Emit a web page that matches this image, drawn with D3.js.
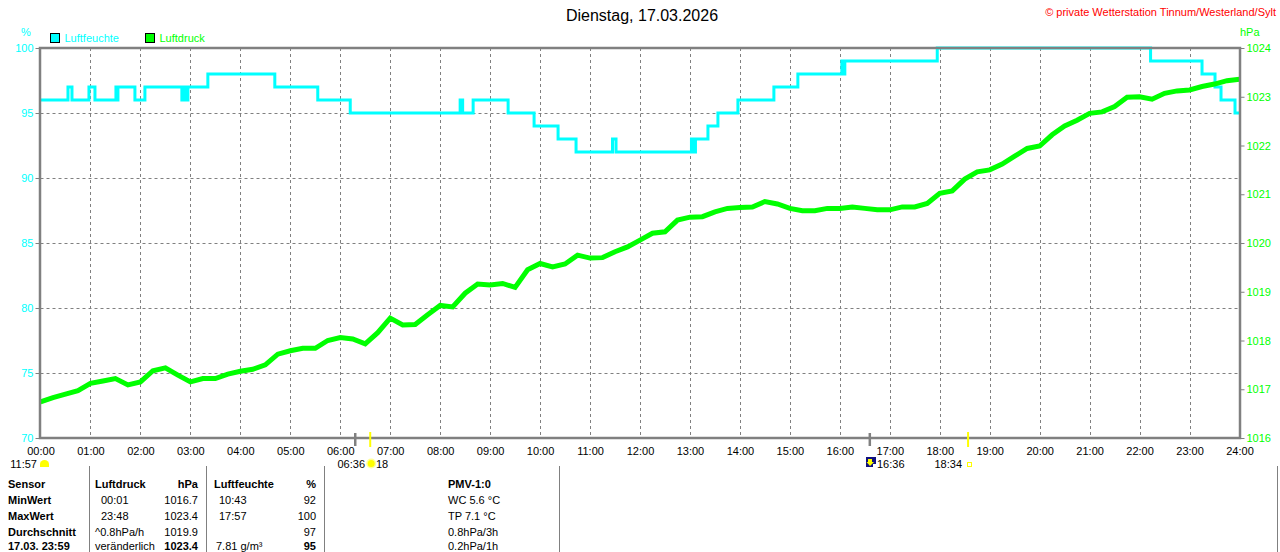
<!DOCTYPE html>
<html><head><meta charset="utf-8">
<script src="https://cdn.jsdelivr.net/npm/d3@7"></script>
<style>
html,body{margin:0;padding:0;background:#fff;}
svg{display:block;font-family:"Liberation Sans",Arial,sans-serif;}
</style></head>
<body>
<svg id="c" width="1280" height="552"></svg>
<script>
// ---------- data ----------
const titleText = "Dienstag, 17.03.2026";
const copyrightText = "© private Wetterstation Tinnum/Westerland/Sylt";
const hourLabels = ["00:00","01:00","02:00","03:00","04:00","05:00","06:00","07:00","08:00","09:00","10:00","11:00","12:00","13:00","14:00","15:00","16:00","17:00","18:00","19:00","20:00","21:00","22:00","23:00","24:00"];
const humTicks = [70,75,80,85,90,95,100];
const pressTicks = [1016,1017,1018,1019,1020,1021,1022,1023,1024];

// Luftdruck, 15-minute readings 00:00 .. 24:00 (hPa)
const pressureTimes = ["00:00","00:15","00:30","00:45","01:00","01:15","01:30","01:45","02:00","02:15","02:30","02:45",
"03:00","03:15","03:30","03:45","04:00","04:15","04:30","04:45","05:00","05:15","05:30","05:45",
"06:00","06:15","06:30","06:45","07:00","07:15","07:30","07:45","08:00","08:15","08:30","08:45",
"09:00","09:15","09:30","09:45","10:00","10:15","10:30","10:45","11:00","11:15","11:30","11:45",
"12:00","12:15","12:30","12:45","13:00","13:15","13:30","13:45","14:00","14:15","14:30","14:45",
"15:00","15:15","15:30","15:45","16:00","16:15","16:30","16:45","17:00","17:15","17:30","17:45",
"18:00","18:15","18:30","18:45","19:00","19:15","19:30","19:45","20:00","20:15","20:30","20:45",
"21:00","21:15","21:30","21:45","22:00","22:15","22:30","22:45","23:00","23:15","23:30","23:45","24:00"];
const pressureValues = [1016.74,1016.83,1016.90,1016.97,1017.12,1017.17,1017.22,1017.09,1017.15,1017.38,1017.44,1017.29,
1017.15,1017.22,1017.22,1017.31,1017.37,1017.41,1017.50,1017.72,1017.79,1017.84,1017.84,1018.00,
1018.06,1018.03,1017.93,1018.16,1018.46,1018.32,1018.33,1018.53,1018.72,1018.69,1018.97,1019.16,
1019.14,1019.17,1019.09,1019.45,1019.58,1019.51,1019.57,1019.75,1019.69,1019.70,1019.82,1019.92,
1020.06,1020.20,1020.23,1020.47,1020.53,1020.54,1020.64,1020.71,1020.73,1020.74,1020.85,1020.80,
1020.71,1020.66,1020.66,1020.71,1020.71,1020.74,1020.71,1020.68,1020.68,1020.74,1020.74,1020.81,
1021.02,1021.07,1021.31,1021.46,1021.50,1021.62,1021.78,1021.94,1021.99,1022.22,1022.40,1022.52,
1022.66,1022.69,1022.80,1022.99,1023.00,1022.95,1023.07,1023.12,1023.14,1023.21,1023.26,1023.33,1023.36];

// Luftfeuchte, step changes (hour of day, %)
const humTimes  = [0,0.55,0.63,0.97,1.09,1.51,1.53,1.55,1.89,2.09,2.83,2.87,2.91,2.95,3.35,4.69,5.55,6.20,
8.40,8.45,8.66,9.36,9.88,10.36,10.72,11.45,11.52,13.03,13.07,13.11,13.36,13.56,13.96,14.68,15.16,
16.04,16.07,16.10,17.95,22.22,23.25,23.51,23.63,23.91,24];
const humValues = [96,97,96,97,96,97,96,97,96,97,96,97,96,97,98,97,96,95,
96,95,96,95,94,93,92,93,92,93,92,93,94,95,96,97,98,
99,98,99,100,99,98,97,96,95,95];

// sun / moon markers on time axis
const grayMarkers = ["06:18","16:36"];
const yellowMarkers = ["06:36","18:34"];

// table
const tableRows = [
  ["Sensor","Luftdruck","hPa","Luftfeuchte","%","PMV-1:0"],
  ["MinWert","00:01","1016.7","10:43","92","WC 5.6 °C"],
  ["MaxWert","23:48","1023.4","17:57","100","TP 7.1 °C"],
  ["Durchschnitt","^0.8hPa/h","1019.9","","97","0.8hPa/3h"],
  ["17.03. 23:59","veränderlich","1023.4","7.81 g/m³","95","0.2hPa/1h"]
];

// ---------- drawing ----------
const toH = s => { const [h,m] = s.split(":").map(Number); return h + m/60; };
const svg = d3.select("#c");
const L = 40.5, R = 1239.5, T = 48, B = 438;
const x = d3.scaleLinear().domain([0,24]).range([L,R]);
const yH = d3.scaleLinear().domain([70,100]).range([B,T]);
const yP = d3.scaleLinear().domain([1016,1024]).range([B,T]);
const CYAN="#00ffff", GREEN="#00ff00", GRAY="#808080";

svg.append("rect").attr("width",1280).attr("height",552).attr("fill","#fff");

// title & copyright
svg.append("text").attr("x",642).attr("y",21).attr("text-anchor","middle")
  .attr("font-size",16).attr("fill","#000").text(titleText);
svg.append("text").attr("x",1276).attr("y",16).attr("text-anchor","end")
  .attr("font-size",11).attr("fill","#ff0000").text(copyrightText);

// unit labels
svg.append("text").attr("x",26).attr("y",36).attr("text-anchor","middle").attr("font-size",11).attr("fill",CYAN).text("%");
svg.append("text").attr("x",1240).attr("y",36).attr("font-size",11).attr("fill",GREEN).text("hPa");

// legend
const leg = [{name:"Luftfeuchte",c:CYAN,x:50.5},{name:"Luftdruck",c:GREEN,x:145.5}];
leg.forEach(d=>{
  svg.append("rect").attr("x",d.x).attr("y",33.5).attr("width",9).attr("height",9)
    .attr("fill",d.c).attr("stroke","#000").attr("stroke-width",1);
  svg.append("text").attr("x",d.x+14).attr("y",42).attr("font-size",11).attr("fill",d.c).text(d.name);
});

// grid
const g = svg.append("g");
g.selectAll("line.v").data(d3.range(1,24)).join("line")
  .attr("x1",d=>Math.round(x(d))+0.5).attr("x2",d=>Math.round(x(d))+0.5)
  .attr("y1",T).attr("y2",B).attr("stroke",GRAY).attr("stroke-width",1).attr("stroke-dasharray","3,3");
g.selectAll("line.h").data(humTicks.filter(d=>d>70&&d<100)).join("line")
  .attr("x1",L).attr("x2",R).attr("y1",d=>Math.round(yH(d))+0.5).attr("y2",d=>Math.round(yH(d))+0.5)
  .attr("stroke",GRAY).attr("stroke-width",1).attr("stroke-dasharray","3,3");

// axes
const axL = svg.append("g").attr("transform",`translate(${L},0)`)
  .call(d3.axisLeft(yH).tickValues(humTicks).tickSize(5).tickPadding(2).tickFormat(d3.format("d")));
axL.select(".domain").remove();
axL.selectAll("line").attr("stroke",GRAY);
axL.selectAll("text").attr("fill",CYAN).attr("font-size",11).attr("font-family","Liberation Sans, Arial, sans-serif");

const axR = svg.append("g").attr("transform",`translate(${R},0)`)
  .call(d3.axisRight(yP).tickValues(pressTicks).tickSize(5).tickPadding(2).tickFormat(d3.format("d")));
axR.select(".domain").remove();
axR.selectAll("line").attr("stroke",GRAY);
axR.selectAll("text").attr("fill",GREEN).attr("font-size",11).attr("font-family","Liberation Sans, Arial, sans-serif");

const axB = svg.append("g").attr("transform",`translate(0,${B})`)
  .call(d3.axisBottom(x).tickValues(d3.range(0,25)).tickSize(0).tickPadding(9).tickFormat(d=>hourLabels[d]));
axB.select(".domain").remove();
axB.selectAll("text").attr("fill","#000").attr("font-size",11).attr("font-family","Liberation Sans, Arial, sans-serif");

// lines
const humData = humTimes.map((t,i)=>[t,humValues[i]]);
const presData = pressureTimes.map((t,i)=>[toH(t),pressureValues[i]]);
svg.append("path").datum(humData)
  .attr("d",d3.line().x(d=>x(d[0])).y(d=>yH(d[1])).curve(d3.curveStepAfter))
  .attr("fill","none").attr("stroke",CYAN).attr("stroke-width",3);
svg.append("path").datum(presData)
  .attr("d",d3.line().x(d=>x(d[0])).y(d=>yP(d[1])))
  .attr("fill","none").attr("stroke",GREEN).attr("stroke-width",5).attr("stroke-linejoin","miter");

// frame
svg.append("rect").attr("x",L-0.5).attr("y",T).attr("width",R-L+1).attr("height",B-T)
  .attr("fill","none").attr("stroke",GRAY).attr("stroke-width",2.5);

// sun markers
svg.selectAll("line.gm").data(grayMarkers).join("line")
  .attr("x1",d=>x(toH(d))).attr("x2",d=>x(toH(d))).attr("y1",433).attr("y2",446)
  .attr("stroke",GRAY).attr("stroke-width",2.5);
svg.selectAll("line.ym").data(yellowMarkers).join("line")
  .attr("x1",d=>x(toH(d))).attr("x2",d=>x(toH(d))).attr("y1",432).attr("y2",447)
  .attr("stroke","#ffff00").attr("stroke-width",2);

// second row under axis
const small = (tx,ty,s,anchor)=>svg.append("text").attr("x",tx).attr("y",ty).attr("font-size",11)
  .attr("text-anchor",anchor||"start").attr("fill","#000").text(s);
small(37,468,"11:57","end");
svg.append("path").attr("d","M40,467 L40,464 A4.5,4 0 0 1 49,464 L49,467 Z").attr("fill","#ffff00");
small(365,468,"06:36","end");
svg.append("circle").attr("cx",x(toH("06:36"))+1).attr("cy",463.5).attr("r",5).attr("fill","#ffff99");
svg.append("circle").attr("cx",x(toH("06:36"))+1).attr("cy",463.5).attr("r",3.5).attr("fill","#ffff00");
small(376,468,"18");
svg.append("rect").attr("x",866).attr("y",457).attr("width",10).attr("height",10).attr("fill","#101080");
svg.append("path").attr("d","M868,459 L872,459 L872,462 L874,462 L870,466 L866.5,462 L868,462 Z").attr("fill","#ffff00");
svg.append("rect").attr("x",873).attr("y",464).attr("width",3).attr("height",3).attr("fill","#ffffff");
small(877,468,"16:36");
small(962,468,"18:34","end");
svg.append("rect").attr("x",967.5).attr("y",462.5).attr("width",4).attr("height",4).attr("fill","none").attr("stroke","#ffff00").attr("stroke-width",1);

// table separators
[89,206,324,559,1277].forEach(sx=>{
  svg.append("line").attr("x1",sx+0.5).attr("x2",sx+0.5).attr("y1",466).attr("y2",552).attr("stroke",GRAY).attr("stroke-width",1);
});

// table text
const rowY = [488,504,520,536,550];
const colDefs = [
  {x:8, anchor:"start"},
  {x:95, anchor:"start"},
  {x:198, anchor:"end"},
  {x:214, anchor:"start"},
  {x:316, anchor:"end"},
  {x:448, anchor:"start"}
];
const rowIndent = [[0,0,0,0,0,0],[0,6,0,5,0,0],[0,6,0,5,0,0],[0,0,0,0,0,0],[0,0,0,2,0,0]];
tableRows.forEach((row,ri)=>{
  row.forEach((cell,ci)=>{
    if(!cell) return;
    const bold = ri===0 || ci===0 || (ri===4 && (ci===2||ci===4));
    svg.append("text").attr("x",colDefs[ci].x + rowIndent[ri][ci]).attr("y",rowY[ri])
      .attr("text-anchor",colDefs[ci].anchor).attr("font-size",11)
      .attr("font-weight",bold?"bold":"normal").attr("fill","#000").text(cell);
  });
});
</script>
</body></html>
